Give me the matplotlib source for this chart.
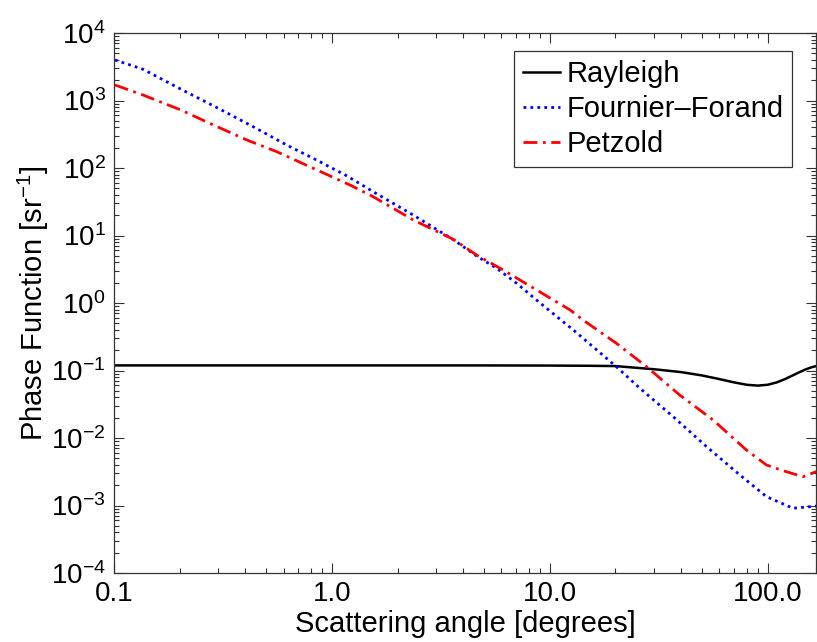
import numpy as np
import matplotlib
matplotlib.use("Agg")
import matplotlib.pyplot as plt
from matplotlib.ticker import LogLocator, FixedLocator, FixedFormatter, NullFormatter

plt.rcParams['font.family'] = ['Liberation Sans', 'DejaVu Sans']
plt.rcParams['mathtext.fontset'] = 'custom'
plt.rcParams['mathtext.rm'] = 'Liberation Sans'
plt.rcParams['mathtext.it'] = 'Liberation Sans:italic'

# Rayleigh
ray_angle = [0.1, 1.0, 5.0, 10.0, 15.0, 20.0, 30.0, 40.0, 50.0, 60.0, 70.0, 80.0, 90.0,
             100.0, 110.0, 120.0, 130.0, 140.0, 150.0, 160.0, 167.0]
ray_val = [0.119, 0.119, 0.1189, 0.1183, 0.1175, 0.1163, 0.1045, 0.0947, 0.0844, 0.0746,
           0.0667, 0.0615, 0.0597, 0.0615, 0.0667, 0.0746, 0.0844, 0.0947, 0.1045, 0.1124, 0.1164]

# Fournier-Forand
ff_angle = [0.101, 0.136, 0.203, 0.301, 0.435, 0.620, 0.851, 1.167, 1.545, 2.36, 3.60, 4.61,
            5.70, 7.04, 8.69, 11.5, 12.8, 20.2, 25.9, 36.8, 52.4, 74.5, 98.7, 130.6, 167.0]
ff_val = [3981, 2900, 1466, 766, 409, 219, 131, 76.9, 44.6, 20.1, 8.7, 4.97,
          3.27, 1.96, 1.107, 0.528, 0.40, 0.1137, 0.0545, 0.0207, 0.00743, 0.00283,
          0.00135, 0.00091, 0.00098]

# Petzold
pz_angle = [0.101, 0.136, 0.203, 0.275, 0.407, 0.557, 0.821, 1.21, 1.545, 2.36, 3.60, 4.61,
            6.11, 8.69, 12.4, 14.2, 20.2, 27.8, 39.4, 56.1, 79.8, 98.7, 117.5, 145.0, 167.0]
pz_val = [1698, 1205, 722, 459, 260, 175, 99, 56, 37.6, 17.0, 8.8, 5.14,
          3.08, 1.56, 0.787, 0.56, 0.253, 0.1137, 0.0434, 0.0185, 0.00664, 0.00398,
          0.00328, 0.00267, 0.00317]

xtick_vals = [0.1, 1.0, 10.0, 100.0]
xtick_labels = ['0.1', '1.0', '10.0', '100.0']
ytick_vals = [1e-4, 1e-3, 1e-2, 1e-1, 1e0, 1e1, 1e2, 1e3, 1e4]
ytick_labels = [r'$10^{%d}$' % e for e in range(-4, 5)]

fig = plt.figure(figsize=(8.17, 6.42), dpi=100)
ax = fig.add_axes([114 / 817, (642 - 573) / 642, (816.3 - 114) / 817, 540 / 642])

ax.plot(ray_angle, ray_val, color='black', linestyle='-', linewidth=1.8, label='Rayleigh')
ax.plot(ff_angle, ff_val, color='blue', linestyle=(0, (1, 1.5)), linewidth=2.0, label='Fournier\u2013Forand')
ax.plot(pz_angle, pz_val, color='red', linestyle=(0, (5, 2, 1, 2)), linewidth=2.0, label='Petzold')

ax.set_xscale('log')
ax.set_yscale('log')
ax.set_xlim(0.1, 167)
ax.set_ylim(1e-4, 1e4)

ax.xaxis.set_major_locator(FixedLocator(xtick_vals))
ax.xaxis.set_major_formatter(FixedFormatter(xtick_labels))
ax.xaxis.set_minor_locator(LogLocator(base=10, subs=np.arange(2, 10), numticks=20))
ax.xaxis.set_minor_formatter(NullFormatter())
ax.yaxis.set_major_locator(FixedLocator(ytick_vals))
ax.yaxis.set_major_formatter(FixedFormatter(ytick_labels))
ax.yaxis.set_minor_locator(LogLocator(base=10, subs=np.arange(2, 10), numticks=20))
ax.yaxis.set_minor_formatter(NullFormatter())

ax.tick_params(which='both', direction='in', top=True, right=True, color='#333333', width=0.8)
ax.tick_params(which='major', length=7, labelsize=20, pad=6)
ax.tick_params(which='minor', length=3.5)
for s in ax.spines.values():
    s.set_color('#333333')
    s.set_linewidth(0.9)

ax.set_xlabel('Scattering angle [degrees]', fontsize=21, labelpad=2)
ax.set_ylabel(r'Phase Function [sr$^{-1}$]', fontsize=21, labelpad=0)

leg = ax.legend(loc='upper right', bbox_to_anchor=((792 - 114) / (816 - 114), (573 - 51) / 540),
                borderaxespad=0, fontsize=21, handlelength=1.26, handletextpad=0.23,
                labelspacing=0.25, borderpad=0.3, fancybox=False, framealpha=1)
leg.get_frame().set_edgecolor('#333333')
leg.get_frame().set_linewidth(0.9)

fig.savefig('out.png', dpi=100)
